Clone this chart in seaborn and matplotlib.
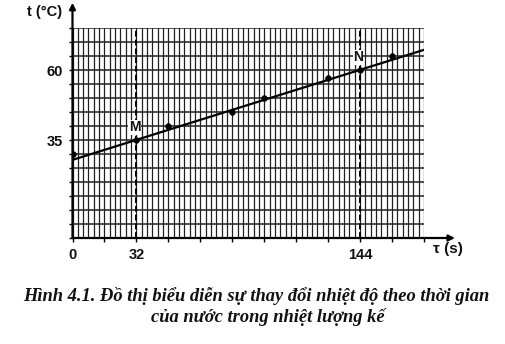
import numpy as np
import pandas as pd
import matplotlib
matplotlib.use("Agg")
import matplotlib.pyplot as plt
import seaborn as sns

# ---- data ----
tau_points = [0, 32, 48, 80, 96, 128, 144, 160]        # s
temp_points = [30, 35, 40, 45, 50, 57, 60, 65]         # °C
fit_tau = [0, 176]
fit_temp = [27.9, 67.2]
marked_tau = [32, 144]
marked_temp = [35, 60]
marked_names = ["M", "N"]
x_tick_labels = {0: "0", 32: "32", 144: "144"}
y_tick_labels = {35: "35", 60: "60"}
caption1 = "Hình 4.1. Đồ thị biểu diễn sự thay đổi nhiệt độ theo thời gian"
caption2 = "của nước trong nhiệt lượng kế"

sns.set_theme(style="white")
plt.rcParams['font.family'] = ['Liberation Sans', 'DejaVu Sans']

W, H = 505, 344
fig = plt.figure(figsize=(W / 100, H / 100), dpi=100)
fig.patch.set_facecolor("white")

def px(x, y):
    return x / W, 1 - y / H

x0, x1 = 72.5, 424
y0, y1 = 238, 28
ax = fig.add_axes([x0 / W, 1 - y0 / H, (x1 - x0) / W, (y0 - y1) / H])
ax.set_xlim(0, 176)
ax.set_ylim(0, 75)
for s in ax.spines.values():
    s.set_visible(False)

# grid
ax.set_xticks(np.arange(0, 177, 16))
ax.set_xticks(np.arange(0, 176.01, 16 / 6), minor=True)
ax.set_yticks(np.arange(0, 76, 5))
ax.grid(which="both", axis="x", color="#222222", linewidth=0.9)
ax.grid(which="major", axis="y", color="#222222", linewidth=1.1)
ax.set_axisbelow(True)
ax.set_xticklabels([x_tick_labels.get(int(v), "") for v in np.arange(0, 177, 16)])
ax.set_yticklabels([y_tick_labels.get(int(v), "") for v in np.arange(0, 76, 5)])
ax.tick_params(axis="x", which="major", direction="out", length=3, width=1.0,
               color="black", labelsize=10.5, pad=4, bottom=True)
ax.tick_params(axis="x", which="minor", length=0)
ax.tick_params(axis="y", which="major", direction="out", length=3, width=1.0,
               color="black", labelsize=10.5, pad=4, left=True)
for lab in ax.get_xticklabels() + ax.get_yticklabels():
    lab.set_fontweight("bold")
    lab.set_color("#111")

# dashed verticals at M and N
for xv in marked_tau:
    ax.plot([xv, xv], [0, 75], color="black", linewidth=1.4,
            linestyle=(0, (3, 1.5)), zorder=3)

# fitted line and points
sns.lineplot(x=fit_tau, y=fit_temp, ax=ax, color="black", linewidth=1.6, zorder=4)
sns.scatterplot(x=tau_points, y=temp_points, ax=ax, color="black", s=18,
                edgecolor="black", zorder=5, legend=False)
ax.set_xlabel("")
ax.set_ylabel("")

for name, xv, yv in zip(marked_names, marked_tau, marked_temp):
    ax.text(xv - 1, yv + 2.0, name, ha="center", va="bottom", fontsize=10,
            fontweight="bold", color="#111", zorder=6,
            bbox=dict(facecolor="white", edgecolor="none", pad=0.3))

# axes with arrows
ax.annotate("", xy=(191.5, 0), xytext=(0, 0), xycoords="data",
            arrowprops=dict(arrowstyle="-|>", color="black", lw=1.6,
                            mutation_scale=9, shrinkA=0, shrinkB=0),
            annotation_clip=False)
ax.annotate("", xy=(0, 84), xytext=(0, 0), xycoords="data",
            arrowprops=dict(arrowstyle="-|>", color="black", lw=1.6,
                            mutation_scale=9, shrinkA=0, shrinkB=0),
            annotation_clip=False)

fig.text(*px(62, 12), "t (°C)", ha="right", va="center", fontsize=10.5,
         fontweight="bold", color="#111")
fig.text(*px(448, 249), "τ (s)", ha="center", va="center", fontsize=11,
         fontweight="bold", color="#111")

fig.text(*px(256, 296), caption1, ha="center", va="center", fontsize=13.3,
         family="Liberation Serif", style="italic", fontweight="bold", color="#111")
fig.text(*px(268, 317), caption2, ha="center", va="center", fontsize=13.3,
         family="Liberation Serif", style="italic", fontweight="bold", color="#111")

fig.savefig("out.png", dpi=100, facecolor="white")
